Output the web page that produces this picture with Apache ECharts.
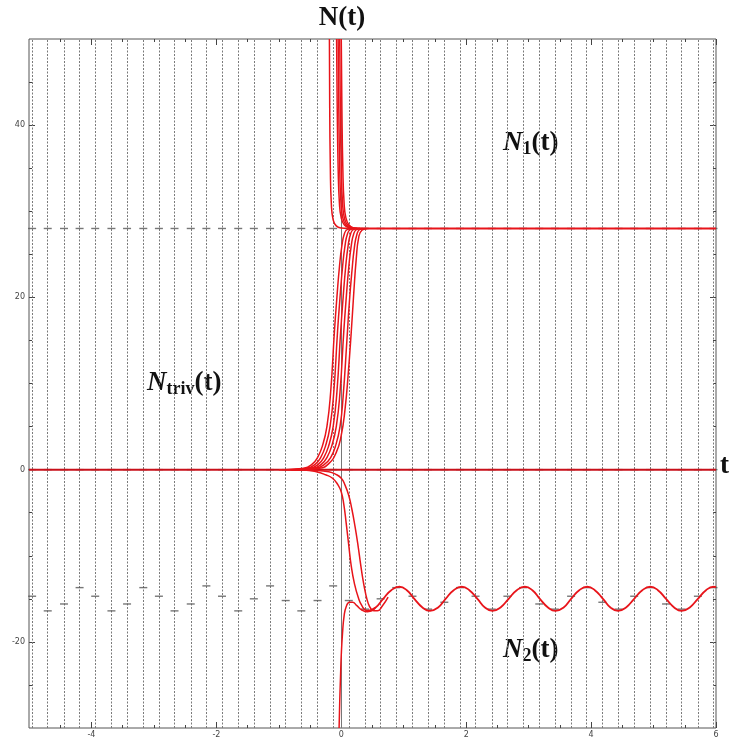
<!DOCTYPE html>
<html>
<head>
<meta charset="utf-8">
<title>N(t)</title>
<script src="https://cdn.jsdelivr.net/npm/echarts@6/dist/echarts.min.js"></script>
<style>
    html, body { margin: 0; padding: 0; background: #fff; }
    #main { width: 736px; height: 739px; }
</style>
</head>
<body>
<div id="main"></div>
<script>
    // columns of the direction field (t positions)
    var fieldX = [-4.95, -4.70, -4.44, -4.19, -3.94, -3.68, -3.43, -3.17, -2.92, -2.67, -2.41,
        -2.16, -1.91, -1.65, -1.40, -1.14, -0.89, -0.64, -0.38, -0.13, 0.12, 0.38, 0.63, 0.88,
        1.14, 1.39, 1.65, 1.90, 2.15, 2.41, 2.66, 2.91, 3.17, 3.42, 3.68, 3.93, 4.18, 4.44,
        4.69, 4.94, 5.20, 5.45, 5.71, 5.96];
    // flat field marks in the lower band, one per column
    var bandY = [-14.7, -16.4, -15.6, -13.7, -14.7, -16.4, -15.6, -13.7, -14.7, -16.4, -15.6,
        -13.5, -14.7, -16.4, -15.0, -13.5, -15.2, -16.4, -15.2, -13.5, -15.2, -16.2, -15.0, -13.7,
        -14.7, -16.2, -15.4, -13.7, -14.7, -16.2, -14.7, -13.7, -15.6, -16.2, -14.7, -13.7,
        -15.4, -16.2, -14.7, -13.7, -15.6, -16.2, -14.7, -13.7];
    var levelN1 = 28;
    var levelTriv = 0;

    // ticks
    var xMajor = [-4, -2, 0, 2, 4, 6];
    var xMinor = [-4.5, -3.5, -3, -2.5, -1.5, -1, -0.5, 0.5, 1, 1.5, 2.5, 3, 3.5, 4.5, 5, 5.5];
    var yMajor = [-20, 0, 20, 40];
    var yMinor = [-25, -15, -10, -5, 5, 10, 15, 25, 30, 35, 45];

    // solution curves [t, N]
    var trivial = [[-5, 0], [6, 0]];
    var lineN1 = [[0.1, 28], [6, 28]];

    var rise1 = [[-0.9, 0], [-0.6, 0.15], [-0.47, 0.6], [-0.38, 1.4], [-0.3, 2.8], [-0.23, 5], [-0.17, 9], [-0.11, 16], [-0.07, 20], [-0.03, 23.5], [0.01, 26], [0.05, 27.4], [0.1, 27.9], [0.2, 28]];
    var rise2 = [[-0.85, 0], [-0.55, 0.15], [-0.42, 0.6], [-0.33, 1.4], [-0.25, 2.8], [-0.18, 5], [-0.12, 9], [-0.06, 16], [-0.02, 20], [0.02, 23.5], [0.06, 26], [0.1, 27.4], [0.15, 27.9], [0.25, 28]];
    var rise3 = [[-0.8, 0], [-0.5, 0.15], [-0.37, 0.6], [-0.28, 1.4], [-0.2, 2.8], [-0.13, 5], [-0.07, 9], [-0.01, 16], [0.03, 20], [0.07, 23.5], [0.11, 26], [0.15, 27.4], [0.2, 27.9], [0.3, 28]];
    var rise4 = [[-0.75, 0], [-0.45, 0.15], [-0.32, 0.6], [-0.23, 1.4], [-0.15, 2.8], [-0.08, 5], [-0.02, 9], [0.04, 16], [0.08, 20], [0.12, 23.5], [0.16, 26], [0.2, 27.4], [0.25, 27.9], [0.35, 28]];
    var rise5 = [[-0.7, 0], [-0.4, 0.15], [-0.27, 0.6], [-0.17, 1.4], [-0.09, 2.8], [-0.02, 5], [0.03, 8.5], [0.09, 15], [0.13, 19.5], [0.17, 23], [0.21, 25.8], [0.25, 27.3], [0.3, 27.9], [0.4, 28]];
    var rise6 = [[-0.65, 0], [-0.35, 0.15], [-0.2, 0.7], [-0.08, 2], [0.0, 4], [0.06, 7], [0.11, 11], [0.16, 16], [0.2, 20.5], [0.24, 24.5], [0.28, 27], [0.33, 27.8], [0.42, 28]];

    var fall1 = [[-0.19, 50], [-0.185, 42], [-0.175, 35], [-0.16, 31], [-0.13, 29], [-0.08, 28.3], [0.0, 28.05], [0.1, 28]];
    var fall2 = [[-0.075, 50], [-0.065, 42], [-0.05, 35], [-0.03, 31], [0.0, 29.2], [0.05, 28.4], [0.12, 28.1], [0.25, 28]];
    var fall3 = [[-0.05, 50], [-0.04, 42], [-0.025, 35], [-0.005, 31], [0.025, 29.2], [0.075, 28.4], [0.14, 28.1], [0.27, 28]];
    var fall4 = [[-0.025, 50], [-0.015, 42], [0.0, 35], [0.02, 31], [0.05, 29.2], [0.1, 28.4], [0.17, 28.1], [0.3, 28]];
    var fall5 = [[0.0, 50], [0.01, 42], [0.025, 35], [0.045, 31], [0.075, 29.2], [0.125, 28.4], [0.19, 28.1], [0.32, 28]];

    var down1 = [[-1, 0], [-0.6, -0.05], [-0.4, -0.25], [-0.25, -0.6], [-0.14, -1], [-0.05, -1.8], [0.0, -2.6], [0.04, -4], [0.08, -6.3], [0.12, -8.8], [0.16, -11.2], [0.21, -13.2], [0.27, -14.8], [0.33, -15.8], [0.4, -16.35], [0.47, -16.4], [0.55, -16.0]];
    var down2 = [[-0.8, 0], [-0.4, -0.08], [-0.2, -0.25], [-0.1, -0.5], [0.0, -1.0], [0.06, -1.8], [0.12, -3], [0.17, -4.6], [0.22, -6.6], [0.27, -8.9], [0.31, -11], [0.35, -12.9], [0.39, -14.4], [0.43, -15.5], [0.47, -16.1], [0.52, -16.4], [0.58, -16.4], [0.66, -15.8], [0.75, -14.8]];
    var upFromBelow = [[-0.035, -30], [-0.025, -27], [-0.012, -24], [0.0, -21.5], [0.02, -19], [0.045, -17], [0.08, -15.9], [0.13, -15.4], [0.18, -15.4], [0.25, -15.8], [0.33, -16.3], [0.42, -16.5], [0.5, -16.35]];

    var lineN2 = [[0.42, -16.4], [0.55, -16.0], [0.67, -15.0], [0.8, -14.0], [0.93, -13.6], [1.05, -14.0], [1.17, -15.0], [1.3, -16.0],
        [1.42, -16.4], [1.55, -16.0], [1.67, -15.0], [1.8, -14.0], [1.93, -13.6], [2.05, -14.0], [2.18, -15.0], [2.3, -16.0],
        [2.42, -16.4], [2.55, -16.0], [2.68, -15.0], [2.81, -14.0], [2.94, -13.6], [3.06, -14.0], [3.18, -15.0], [3.31, -16.0],
        [3.43, -16.4], [3.56, -16.0], [3.68, -15.0], [3.81, -14.0], [3.94, -13.6], [4.06, -14.0], [4.19, -15.0], [4.31, -16.0],
        [4.43, -16.4], [4.56, -16.0], [4.69, -15.0], [4.82, -14.0], [4.95, -13.6], [5.07, -14.0], [5.2, -15.0], [5.33, -16.0],
        [5.45, -16.4], [5.58, -16.0], [5.71, -15.0], [5.84, -14.0], [5.96, -13.6], [6.0, -13.65]];

    var steepCurves = [rise1, rise2, rise3, rise4, rise5, rise6,
        fall1, fall2, fall3, fall4, fall5, down1, down2, upFromBelow];

    var myChart = echarts.init(document.getElementById('main'));

    var serif = '"Liberation Serif", "DejaVu Serif", serif';
    var red = '#e8141a';
    var tickColor = '#444';

    function xAx(pos, ticks, len, labels) {
        return {
            type: 'value', position: pos, min: -5, max: 6,
            axisLine: { show: false, onZero: false }, splitLine: { show: false },
            axisTick: { show: true, inside: true, length: len, customValues: ticks, lineStyle: { color: tickColor } },
            axisLabel: labels ? { show: true, customValues: ticks, fontSize: 8, color: '#444', margin: 3, fontFamily: 'DejaVu Sans' } : { show: false }
        };
    }
    function yAx(pos, ticks, len, labels) {
        return {
            type: 'value', position: pos, min: -30, max: 50,
            axisLine: { show: false, onZero: false }, splitLine: { show: false },
            axisTick: { show: true, inside: true, length: len, customValues: ticks, lineStyle: { color: tickColor } },
            axisLabel: labels ? { show: true, customValues: ticks, fontSize: 8, color: '#444', margin: 4, fontFamily: 'DejaVu Sans' } : { show: false }
        };
    }

    // field: dotted columns
    var columns = fieldX.map(function (x) {
        return { coords: [[x, -30], [x, 50]] };
    });
    // flat marks of the field
    var flatMarks = [];
    fieldX.forEach(function (x, i) {
        flatMarks.push([x, levelN1]);
        flatMarks.push([x, levelTriv]);
        flatMarks.push([x, bandY[i]]);
    });

    var series = [
        {
            type: 'lines',
            coordinateSystem: 'cartesian2d',
            polyline: false,
            silent: true,
            z: 1,
            lineStyle: { color: '#7a7a7a', width: 1, type: [2, 1.5], opacity: 1 },
            data: columns
        },
        {
            type: 'scatter',
            symbol: 'rect',
            symbolSize: [8, 1.4],
            itemStyle: { color: '#555' },
            silent: true,
            z: 2,
            data: flatMarks,
            markLine: {
                silent: true,
                symbol: 'none',
                label: { show: false },
                data: [
                    { xAxis: 0, lineStyle: { color: '#777', width: 1, type: 'solid' } },
                    { yAxis: 0, lineStyle: { color: '#222', width: 1, type: 'solid' } }
                ]
            }
        },
        {
            type: 'line', data: trivial, symbol: 'none', silent: true, z: 5,
            lineStyle: { color: '#c8101a', width: 2 }
        },
        {
            type: 'line', data: lineN1, symbol: 'none', silent: true, z: 5,
            lineStyle: { color: red, width: 1.8 }
        },
        {
            type: 'line', data: lineN2, symbol: 'none', smooth: 0.5, silent: true, z: 5,
            lineStyle: { color: red, width: 1.8 }
        }
    ];

    steepCurves.forEach(function (d) {
        series.push({
            type: 'line',
            data: d,
            symbol: 'none',
            smooth: 0.5,
            silent: true,
            z: 5,
            lineStyle: { color: red, width: 1.5 }
        });
    });

    function label(x, y, sub) {
        return {
            type: 'text', x: x, y: y,
            style: {
                text: '{n|N}{s|' + sub + '}{p|(t)}',
                rich: {
                    n: { fontFamily: serif, fontStyle: 'italic', fontWeight: 'bold', fontSize: 27, fill: '#111' },
                    s: { fontFamily: serif, fontWeight: 'bold', fontSize: 18, fill: '#111', padding: [12, 0, 0, 0] },
                    p: { fontFamily: serif, fontWeight: 'bold', fontSize: 27, fill: '#111' }
                }
            }
        };
    }

    var option = {
        animation: false,
        backgroundColor: '#fff',
        grid: { left: 29, right: 20, top: 39, bottom: 11, show: true, borderColor: '#555', borderWidth: 1 },
        xAxis: [
            xAx('bottom', xMajor, 6, true),
            xAx('bottom', xMinor, 3, false),
            xAx('top', xMajor, 6, false),
            xAx('top', xMinor, 3, false)
        ],
        yAxis: [
            yAx('left', yMajor, 6, true),
            yAx('left', yMinor, 3, false),
            yAx('right', yMajor, 6, false),
            yAx('right', yMinor, 3, false)
        ],
        series: series,
        graphic: [
            { type: 'text', x: 342, y: 5, style: { text: 'N(t)', fontFamily: serif, fontWeight: 'bold', fontSize: 27, fill: '#111', align: 'center' } },
            { type: 'text', x: 720, y: 453, style: { text: 't', fontFamily: serif, fontWeight: 'bold', fontSize: 27, fill: '#111' } },
            label(503, 128, '1'),
            label(147, 368, 'triv'),
            label(503, 635, '2')
        ]
    };

    myChart.setOption(option);
</script>
</body>
</html>
